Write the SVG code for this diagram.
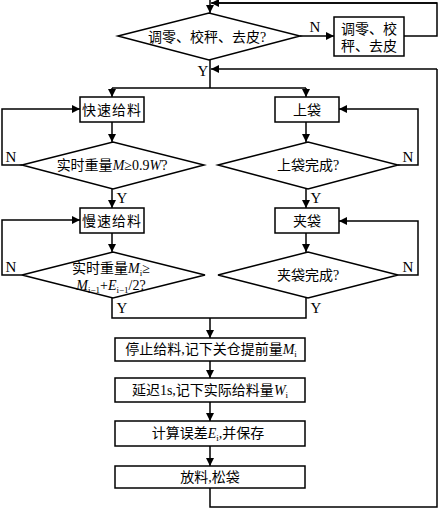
<svg xmlns="http://www.w3.org/2000/svg" width="438" height="509" viewBox="0 0 438 509">
<defs>
<marker id="ah" viewBox="0 0 10 10" refX="10" refY="5" markerWidth="8" markerHeight="8" markerUnits="userSpaceOnUse" orient="auto">
<path d="M0,0 L10,5 L0,10 z" fill="#000"/>
</marker>
<style>
.s{fill:#fff;stroke:#000;stroke-width:1.5}
.c{fill:none;stroke:#000;stroke-width:1.5}
.a{fill:none;stroke:#000;stroke-width:1.5;marker-end:url(#ah)}
text{font-family:"Liberation Serif","Noto Sans CJK SC",serif;font-size:14px;fill:#000}
.m{text-anchor:middle}
.i{font-style:italic}
.sub{font-size:9px}
.lab{font-size:15px}
</style>
</defs>
<rect width="438" height="509" fill="#fff"/>

<g id="connectors">
<path class="a" d="M210,0 V13"/>
<path class="c" d="M404,36 H437 V3 H212"/>
<path class="a" d="M437,3 H211"/>
<path class="a" d="M300,36 H334"/>
<path class="c" d="M210,60 V88"/>
<path class="c" d="M437,69 V507 H210 V488"/>
<path class="a" d="M437,69 H211"/>
<path class="a" d="M112,88 V97"/>
<path class="c" d="M112,88 H306"/>
<path class="a" d="M306,88 V97"/>
<path class="a" d="M112,122 V142"/>
<path class="a" d="M306,122 V142"/>
<path class="a" d="M22,165 H2 V109 H80"/>
<path class="a" d="M398,165 H418 V109 H339"/>
<path class="a" d="M112,189 V208"/>
<path class="a" d="M306,189 V208"/>
<path class="a" d="M112,233 V252"/>
<path class="a" d="M306,233 V252"/>
<path class="a" d="M22,275 H2 V220 H80"/>
<path class="a" d="M398,275 H418 V221 H339"/>
<path class="c" d="M112,298 V318 H306 V298"/>
<path class="a" d="M210,318 V338"/>
<path class="a" d="M210,361 V378"/>
<path class="a" d="M210,402 V421"/>
<path class="a" d="M210,446 V466"/>
<text x="315" y="32" class="m lab">N</text>
<text x="203" y="76" class="m lab">Y</text>
<text x="11" y="162" class="m lab">N</text>
<text x="122" y="203" class="m lab">Y</text>
<text x="408" y="162" class="m lab">N</text>
<text x="316" y="203" class="m lab">Y</text>
<text x="11" y="272" class="m lab">N</text>
<text x="122" y="313" class="m lab">Y</text>
<text x="408" y="272" class="m lab">N</text>
<text x="316" y="313" class="m lab">Y</text>
</g>

<g id="d1">
<polygon class="s" points="118,36 209,13 300,36 209,60"/>
<text x="207" y="42" class="m">调零、校秤、去皮?</text>
</g>
<g id="b1">
<rect class="s" x="334" y="17" width="70" height="39"/>
<text x="369" y="34" class="m">调零、校</text>
<text x="369" y="51" class="m">秤、去皮</text>
</g>

<g id="fast">
<rect class="s" x="80" y="97" width="64" height="25"/>
<text x="112" y="114.5" class="m" letter-spacing="1">快速给料</text>
</g>
<g id="bag">
<rect class="s" x="275" y="97" width="64" height="25"/>
<text x="307" y="114.5" class="m">上袋</text>
</g>
<g id="d2">
<polygon class="s" points="22,165 113,142 204,165 113,189"/>
<text x="112" y="170" class="m">实时重量<tspan class="i">M</tspan>≥0.9<tspan class="i">W</tspan>?</text>
</g>
<g id="d3">
<polygon class="s" points="218,165 308,142 398,165 308,189"/>
<text x="308" y="170" class="m">上袋完成?</text>
</g>

<g id="slow">
<rect class="s" x="80" y="208" width="64" height="25"/>
<text x="112" y="225.5" class="m" letter-spacing="1">慢速给料</text>
</g>
<g id="clamp">
<rect class="s" x="275" y="208" width="64" height="25"/>
<text x="307" y="225.5" class="m">夹袋</text>
</g>
<g id="d4">
<polygon class="s" points="22,275 113,252 205,275 113,298"/>
<text x="111" y="273" class="m">实时重量<tspan class="i">M</tspan><tspan class="sub" dy="3">i</tspan><tspan dy="-3">≥</tspan></text>
<text x="111" y="290" class="m"><tspan class="i">M</tspan><tspan class="sub" dy="3">i−1</tspan><tspan dy="-3">+</tspan><tspan class="i">E</tspan><tspan class="sub" dy="3">i−1</tspan><tspan dy="-3">/2?</tspan></text>
</g>
<g id="d5">
<polygon class="s" points="218,275 308,252 398,275 308,298"/>
<text x="308" y="280" class="m">夹袋完成?</text>
</g>

<g id="stop">
<rect class="s" x="115" y="338" width="190" height="23"/>
<text x="211" y="354" class="m">停止给料,记下关仓提前量<tspan class="i">M</tspan><tspan class="sub" dy="3">i</tspan></text>
</g>
<g id="delay">
<rect class="s" x="115" y="378" width="190" height="24"/>
<text x="210" y="395" class="m">延迟1s,记下实际给料量<tspan class="i">W</tspan><tspan class="sub" dy="3">i</tspan></text>
</g>
<g id="calc">
<rect class="s" x="115" y="421" width="190" height="25"/>
<text x="208" y="438" class="m">计算误差<tspan class="i">E</tspan><tspan class="sub" dy="3">i</tspan><tspan dy="-3">,并保存</tspan></text>
</g>
<g id="release">
<rect class="s" x="115" y="466" width="190" height="22"/>
<text x="210" y="482" class="m">放料,松袋</text>
</g>
</svg>
